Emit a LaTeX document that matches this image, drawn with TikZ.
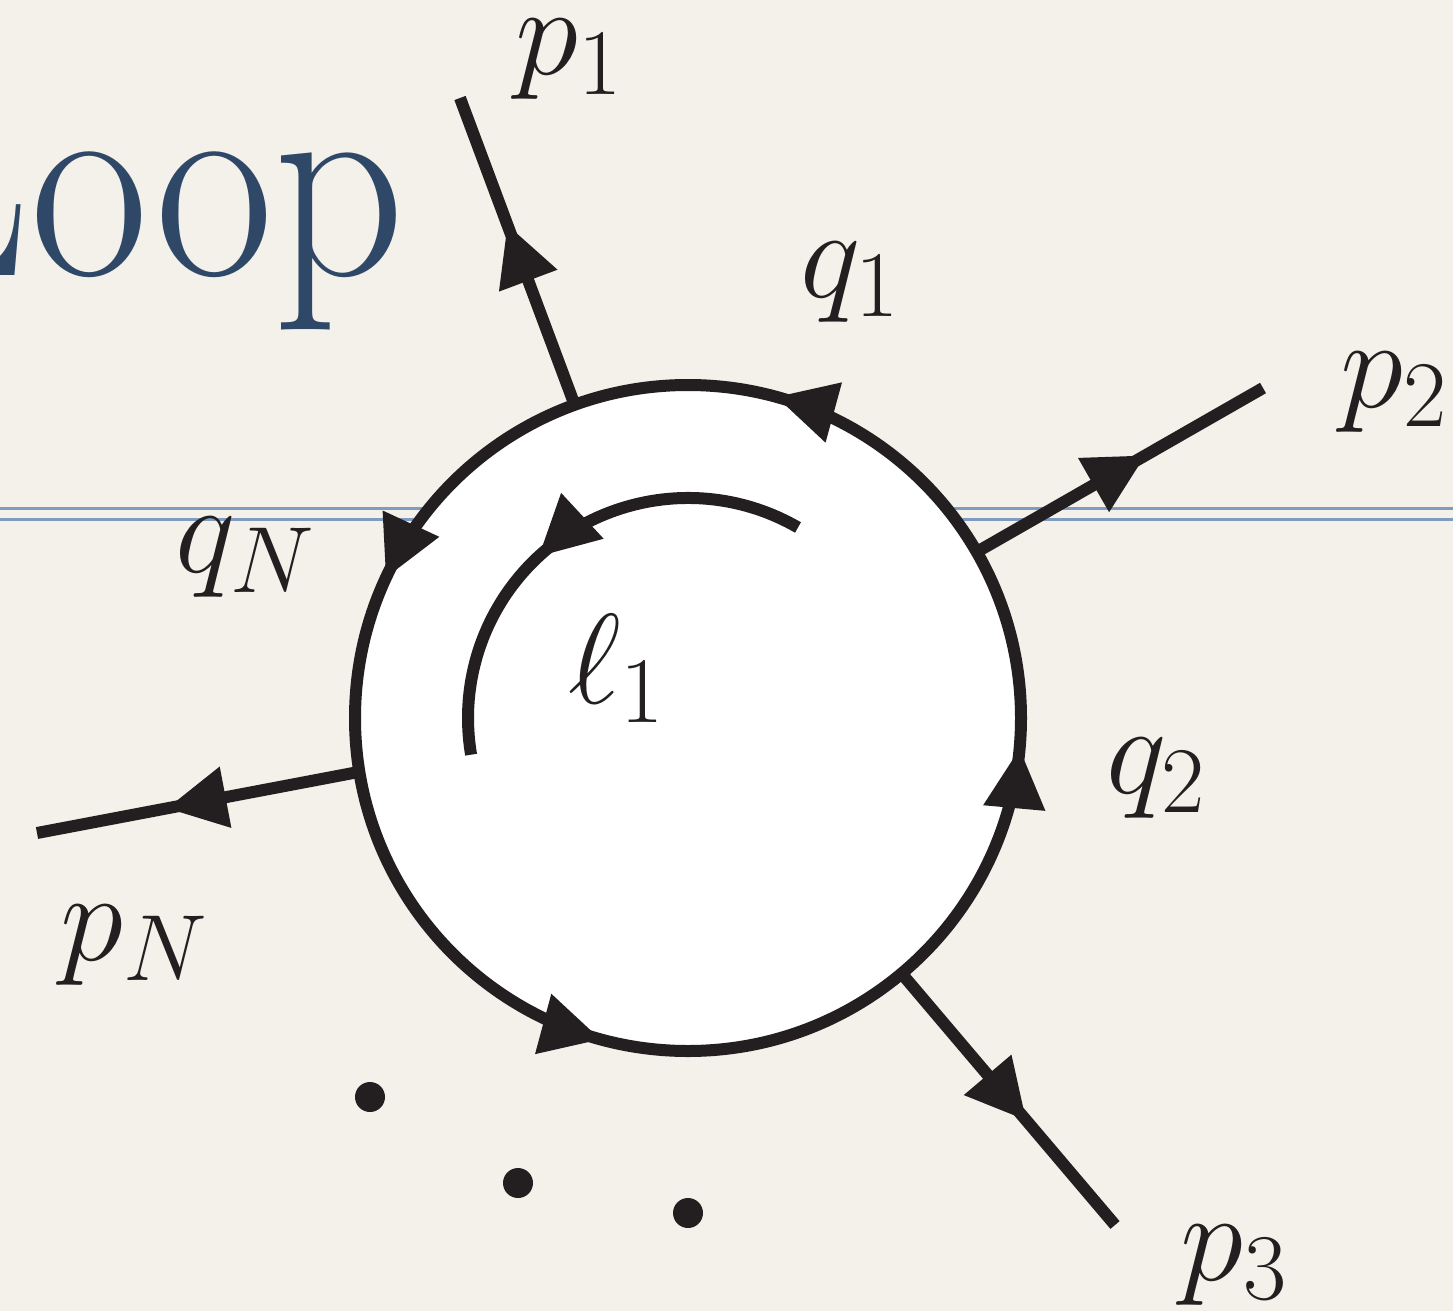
\RequirePackage{fix-cm}
\documentclass[tikz,border=0pt]{standalone}
\usetikzlibrary{arrows.meta,decorations.markings,calc}
\definecolor{bg}{HTML}{F4F1EB}
\definecolor{ink}{HTML}{231F20}
\definecolor{rulec}{HTML}{7F9CC0}
\definecolor{titlec}{HTML}{2F4868}
\newcommand{\sbs}[1]{_{\hbox{\fontsize{94}{100}\selectfont$#1$}}}
\tikzset{
  tri/.tip={Triangle[length=60pt,width=59pt]},
  edge/.style={draw=ink, line width=12pt},
  tipat/.style={postaction={decorate}, decoration={markings, mark=at position #1 with {\arrow{tri}}}},
  lab/.style={inner sep=0pt, anchor=base west, text=ink, font=\fontsize{128}{140}\selectfont},
  dot/.style={circle, fill=ink, inner sep=0pt, minimum size=30pt},
  rulel/.style={draw=rulec, line width=3pt}
}
\begin{document}
\begin{tikzpicture}[x=1pt,y=-1pt]
\useasboundingbox (0,0) rectangle (1453,1311);
\clip (0,0) rectangle (1453,1311);
\fill[bg] (0,0) rectangle (1453,1311);
% title fragment
\node[inner sep=0pt, anchor=base east, text=titlec, font=\fontsize{250}{260}\selectfont] (title) at (405,275) {\scalebox{1.03}[1.12]{Loop}};
% slide rules
\coordinate (r1a) at (0,508); \coordinate (r1b) at (1453,508);
\coordinate (r2a) at (0,519); \coordinate (r2b) at (1453,519);
\draw[rulel] (r1a) -- (r1b);
\draw[rulel] (r2a) -- (r2b);
% geometry
\coordinate (c) at (688,718);
\path (c) ++(-109.9:333) coordinate (v1);
\path (c) ++(-29.9:333) coordinate (v2);
\path (c) ++(50.1:333) coordinate (v3);
\path (c) ++(170.7:333) coordinate (vN);
\coordinate (e1) at (460,98);
\coordinate (e2) at (1263,388);
\coordinate (e3) at (1115,1225);
\coordinate (eN) at (37,833);
% external legs
\draw[edge, tipat=0.588] (v1) -- (e1);
\draw[edge, tipat=0.590] (v2) -- (e2);
\draw[edge, tipat=0.585] (v3) -- (e3);
\draw[edge, tipat=0.598] (vN) -- (eN);
% loop
\draw[edge, fill=white, postaction={decorate}, decoration={markings,
   mark=at position 0.2075 with {\arrow{tri}},
   mark=at position 0.4310 with {\arrow{tri}},
   mark=at position 0.7080 with {\arrow{tri}},
   mark=at position 0.9855 with {\arrow{tri}}}]
   (c) ++(0:333) arc[start angle=0, end angle=-360, radius=333] -- cycle;
% loop momentum arrow
\draw[edge, tipat=0.562] (c) ++(-60:220) arc[start angle=-60, end angle=-189.6, radius=220];
% labels
\node[lab] (lp1) at (515,75) {$p\sbs{1}$};
\node[lab] (lq1) at (800,297) {$q\sbs{1}$};
\node[lab] (lp2) at (1340,407) {$p\sbs{2}$};
\node[lab] (lqN) at (175,572) {$q\sbs{N}$};
\node[lab] (ll1) at (568,703) {$\ell\sbs{1}$};
\node[lab] (lq2) at (1106,793) {$q\sbs{2}$};
\node[lab] (lpN) at (60,960) {$p\sbs{N}$};
\node[lab] (lp3) at (1180,1280) {$p\sbs{3}$};
% dots
\node[dot] (d1) at (370,1097) {};
\node[dot] (d2) at (518,1183) {};
\node[dot] (d3) at (688,1213) {};
\end{tikzpicture}
\end{document}
